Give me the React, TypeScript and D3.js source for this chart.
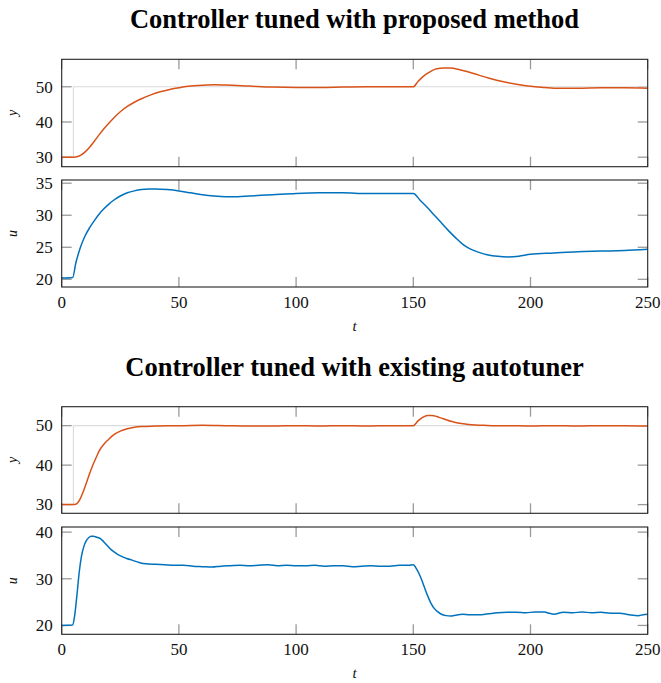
import React from "react";
import * as d3 from "d3";

// ---------- data ----------
const setT = [0, 5, 5, 250];
const setR = [30, 30, 50, 50];

const t1y = [0, 5, 6.5, 8, 10, 12, 14, 16, 18, 20, 22, 25, 28, 31, 34, 38, 42, 46, 50, 55, 60, 65, 70, 80, 90, 100, 110, 120, 130, 140, 150, 152, 154, 156, 158, 160, 163, 166, 169, 172, 175, 178, 182, 186, 190, 194, 198, 202, 206, 210, 215, 220, 230, 240, 250];
const v1y = [30, 30, 30.1, 30.5, 31.5, 32.9, 34.6, 36.4, 38.1, 39.6, 41.0, 42.9, 44.4, 45.6, 46.6, 47.7, 48.6, 49.2, 49.7, 50.2, 50.4, 50.6, 50.5, 50.2, 49.9, 49.8, 49.8, 49.9, 50.0, 50.0, 50.0, 51.5, 52.8, 53.8, 54.6, 55.1, 55.3, 55.3, 55.0, 54.5, 53.9, 53.3, 52.5, 51.8, 51.2, 50.7, 50.3, 50.0, 49.8, 49.6, 49.6, 49.6, 49.7, 49.7, 49.6];

const t1u = [0, 4.7, 6, 8, 10, 12, 14, 16, 18, 20, 22, 25, 28, 31, 34, 37, 40, 45, 50, 55, 60, 65, 70, 75, 80, 90, 100, 110, 115, 120, 130, 140, 150, 153, 156, 159, 162, 165, 168, 171, 174, 178, 182, 186, 190, 195, 200, 210, 220, 230, 240, 250];
const v1u = [20.2, 20.3, 22.5, 25.0, 26.8, 28.1, 29.2, 30.2, 31.0, 31.7, 32.3, 33.0, 33.5, 33.8, 34.0, 34.1, 34.1, 34.0, 33.8, 33.5, 33.2, 33.0, 32.9, 32.9, 33.0, 33.2, 33.4, 33.5, 33.5, 33.5, 33.4, 33.4, 33.4, 32.3, 31.2, 30.0, 28.8, 27.6, 26.5, 25.5, 24.8, 24.2, 23.8, 23.6, 23.5, 23.6, 23.9, 24.1, 24.3, 24.4, 24.5, 24.7];

const t2y = [0, 5, 6, 7, 8, 9, 10, 11, 12, 13, 14, 15, 16, 18, 20, 22, 25, 28, 31, 35, 40, 45, 50, 60, 70, 80, 90, 100, 110, 120, 130, 140, 150, 152, 154, 156, 158, 160, 162, 164, 166, 168, 171, 175, 180, 185, 190, 200, 210, 220, 230, 240, 250];
const v2y = [30, 30, 30.1, 30.6, 31.6, 33.0, 34.6, 36.3, 38.0, 39.6, 41.0, 42.3, 43.6, 45.3, 46.5, 47.6, 48.6, 49.2, 49.6, 49.8, 49.9, 50.0, 50.0, 50.1, 50.0, 49.9, 49.9, 50.0, 49.9, 50.0, 49.9, 50.0, 50.0, 51.2, 52.1, 52.6, 52.6, 52.3, 51.9, 51.5, 51.1, 50.8, 50.5, 50.2, 50.1, 50.0, 50.0, 49.9, 50.0, 49.9, 50.0, 50.0, 49.9];

const t2u = [0, 4.7, 5.5, 6.5, 7.5, 8.5, 9.5, 10.5, 11.5, 12.5, 13.5, 15, 16.5, 18, 19.5, 21, 22.5, 24, 26, 28, 30, 33, 36, 40, 44, 48, 52, 56, 60, 64, 68, 72, 76, 80, 84, 88, 92, 96, 100, 104, 108, 112, 116, 120, 124, 128, 132, 136, 140, 144, 148, 150, 151.5, 153, 154.5, 156, 157.5, 159, 160.5, 162, 164, 166, 168, 171, 174, 178, 182, 186, 190, 194, 198, 202, 206, 208, 210, 214, 218, 222, 226, 230, 234, 238, 242, 246, 248, 250];
const v2u = [20, 20.1, 22, 26.5, 31.5, 35, 37, 38.2, 38.8, 39.1, 39.1, 38.9, 38.6, 37.9, 37.1, 36.3, 35.7, 35.2, 34.7, 34.3, 34.0, 33.5, 33.2, 33.1, 33.0, 32.9, 32.9, 32.7, 32.6, 32.5, 32.7, 32.8, 32.9, 32.8, 32.9, 33.0, 32.8, 32.9, 32.8, 32.8, 32.9, 32.7, 32.8, 32.8, 32.6, 32.7, 32.8, 32.7, 32.7, 32.9, 32.9, 33.0, 32.0, 30.5, 28.5, 26.5, 24.8, 23.6, 22.9, 22.4, 22.1, 22.0, 22.2, 22.4, 22.3, 22.3, 22.5, 22.7, 22.8, 22.8, 22.7, 22.9, 22.9, 22.6, 22.4, 22.8, 22.7, 22.9, 22.7, 22.8, 22.6, 22.6, 22.3, 22.1, 22.3, 22.4];

const xTicks = [0, 50, 100, 150, 200, 250];
const titles = ["Controller tuned with proposed method", "Controller tuned with existing autotuner"];

// ---------- layout ----------
const W = 661, H = 683;
const X0 = 61.7, X1 = 647.7;
const ORANGE = "#D95319", BLUE = "#0072BD";
const FONT = "'Liberation Serif', 'Times New Roman', serif";

type Panel = {
  top: number; bottom: number; dom: [number, number]; ticks: number[];
  label: string; t: number[]; v: number[]; color: string; set: boolean; xlabels: boolean;
};

const panels: Panel[] = [
  { top: 59.3, bottom: 166.7, dom: [27.3, 57.8], ticks: [30, 40, 50], label: "y", t: t1y, v: v1y, color: ORANGE, set: true, xlabels: false },
  { top: 180, bottom: 287, dom: [18.8, 35.5], ticks: [20, 25, 30, 35], label: "u", t: t1u, v: v1u, color: BLUE, set: false, xlabels: true },
  { top: 406.7, bottom: 513.3, dom: [27.8, 54.8], ticks: [30, 40, 50], label: "y", t: t2y, v: v2y, color: ORANGE, set: true, xlabels: false },
  { top: 527, bottom: 634.3, dom: [18.1, 41.1], ticks: [20, 30, 40], label: "u", t: t2u, v: v2u, color: BLUE, set: false, xlabels: true },
];

const x = d3.scaleLinear().domain([0, 250]).range([X0, X1]);
const TL = 10;

function PanelView({ p, idx }: { p: Panel; idx: number }) {
  const y = d3.scaleLinear().domain(p.dom).range([p.bottom, p.top]);
  const line = d3.line<number>().x((_, i) => x(p.t[i])).y((d) => y(d)).curve(d3.curveMonotoneX);
  const sline = d3.line<number>().x((_, i) => x(setT[i])).y((d) => y(d));
  const clipId = `clip${idx}`;
  const mid = (p.top + p.bottom) / 2;
  return (
    <g>
      <defs>
        <clipPath id={clipId}>
          <rect x={X0} y={p.top} width={X1 - X0} height={p.bottom - p.top} />
        </clipPath>
      </defs>
      {xTicks.map((tk) => (
        <g key={"xt" + tk} stroke="#9a9a9a" strokeWidth={1.3}>
          <line x1={x(tk)} x2={x(tk)} y1={p.top} y2={p.top + TL} />
          <line x1={x(tk)} x2={x(tk)} y1={p.bottom} y2={p.bottom - TL} />
        </g>
      ))}
      {p.ticks.map((tk) => (
        <g key={"yt" + tk} stroke="#9a9a9a" strokeWidth={1.3}>
          <line x1={X0} x2={X0 + TL} y1={y(tk)} y2={y(tk)} />
          <line x1={X1} x2={X1 - TL} y1={y(tk)} y2={y(tk)} />
        </g>
      ))}
      <g clipPath={`url(#${clipId})`}>
        {p.set && <path d={sline(setR) || ""} fill="none" stroke="#dcdcdc" strokeWidth={1.2} />}
        <path d={line(p.v) || ""} fill="none" stroke={p.color} strokeWidth={1.5} strokeLinejoin="round" />
      </g>
      <rect x={X0} y={p.top} width={X1 - X0} height={p.bottom - p.top} fill="none" stroke="#222" strokeWidth={1.1} />
      {p.ticks.map((tk) => (
        <text key={"yl" + tk} x={X0 - 9} y={y(tk)} dy="0.34em" textAnchor="end" fontSize={17} fontFamily={FONT} fill="#111">
          {tk}
        </text>
      ))}
      <text transform={`translate(17,${mid}) rotate(-90)`} textAnchor="middle" fontSize={14} fontStyle="italic" fontFamily={FONT} fill="#111">
        {p.label}
      </text>
      {p.xlabels && (
        <g>
          {xTicks.map((tk) => (
            <text key={"xl" + tk} x={x(tk)} y={p.bottom + 20.7} textAnchor="middle" fontSize={17} fontFamily={FONT} fill="#111">
              {tk}
            </text>
          ))}
          <text x={(X0 + X1) / 2} y={p.bottom + 44} textAnchor="middle" fontSize={15} fontStyle="italic" fontFamily={FONT} fill="#111">
            t
          </text>
        </g>
      )}
    </g>
  );
}

export default function App() {
  return (
    <div style={{ position: "absolute", left: 0, top: 0 }}>
      <svg width={W} height={H} style={{ display: "block", background: "#fff" }}>
        <text x={354.5} y={28.3} textAnchor="middle" fontSize={26.5} fontWeight="bold" fontFamily={FONT} fill="#000">
          {titles[0]}
        </text>
        <text x={354.5} y={375.7} textAnchor="middle" fontSize={26.5} fontWeight="bold" fontFamily={FONT} fill="#000">
          {titles[1]}
        </text>
        {panels.map((p, i) => (
          <PanelView key={i} p={p} idx={i} />
        ))}
      </svg>
    </div>
  );
}
